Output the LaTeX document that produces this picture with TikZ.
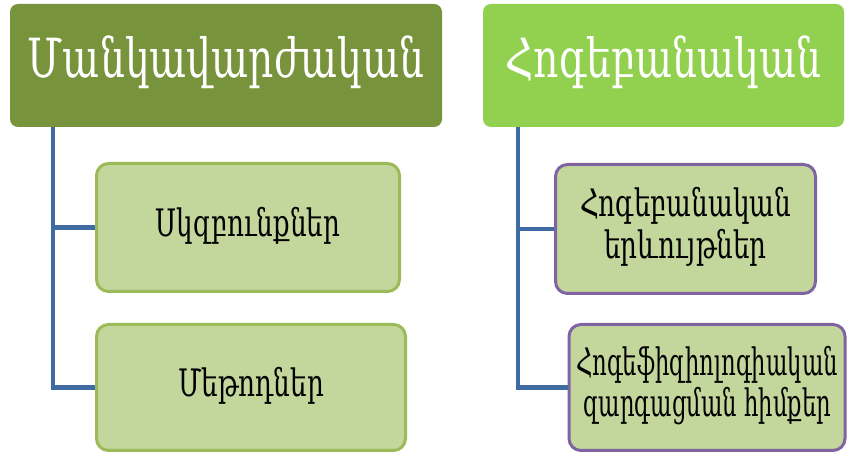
\documentclass[tikz,border=0pt]{standalone}
\usepackage{fontspec}
\usepackage{graphicx}
\setmainfont{DejaVu Serif}
\definecolor{hdrA}{HTML}{77933C}
\definecolor{hdrB}{HTML}{92D050}
\definecolor{boxfill}{HTML}{C3D69B}
\definecolor{boxgreen}{HTML}{9BBB59}
\definecolor{boxpurple}{HTML}{8064A2}
\definecolor{conn}{HTML}{3F6BA3}
\newcommand{\stx}[3]{\scalebox{#1}[#2]{\begin{tabular}{@{}c@{}}#3\end{tabular}}}
\begin{document}
\begin{tikzpicture}[x=1pt,y=1pt,
  hdr/.style={rounded corners=8pt, inner sep=0pt, text=white, font=\fontsize{40}{44}\selectfont, align=center},
  sub/.style={rounded corners=12pt, inner sep=0pt, fill=boxfill, line width=3pt, text=black, font=\fontsize{27}{29}\selectfont, align=center},
  conline/.style={draw=conn, line width=4.5pt}]
\useasboundingbox (0,0) rectangle (848,454);
\node[hdr, fill=hdrA, minimum width=432pt, minimum height=123pt] (lh) at (226,388.5) {\stx{0.98}{1.35}{Մանկավարժական}};
\node[hdr, fill=hdrB, minimum width=361pt, minimum height=123pt] (rh) at (663.5,388.5) {\stx{0.98}{1.35}{Հոգեբանական}};
\node[sub, draw=boxgreen, minimum width=303pt, minimum height=128pt] (b1) at (248,226.5) {\stx{0.97}{1.4}{Սկզբունքներ}};
\node[sub, draw=boxgreen, minimum width=309pt, minimum height=126pt] (b2) at (251,66.5) {\stx{0.97}{1.4}{Մեթոդներ}};
\node[sub, draw=boxpurple, minimum width=260pt, minimum height=129pt] (b3) at (685.5,225) {\stx{0.97}{1.4}{Հոգեբանական\\երևույթներ}};
\node[sub, draw=boxpurple, minimum width=276pt, minimum height=126pt] (b4) at (707,66.5) {\stx{0.84}{1.4}{Հոգեֆիզիոլոգիական\\զարգացման հիմքեր}};
\coordinate (lx) at (53,0);
\coordinate (rx) at (518,0);
\draw[conline] (lh.south -| lx) |- (b2.west);
\draw[conline] (lx |- b1.west) -- (b1.west);
\draw[conline] (rh.south -| rx) |- (b4.west);
\draw[conline] (rx |- b3.west) -- (b3.west);
\end{tikzpicture}
\end{document}
